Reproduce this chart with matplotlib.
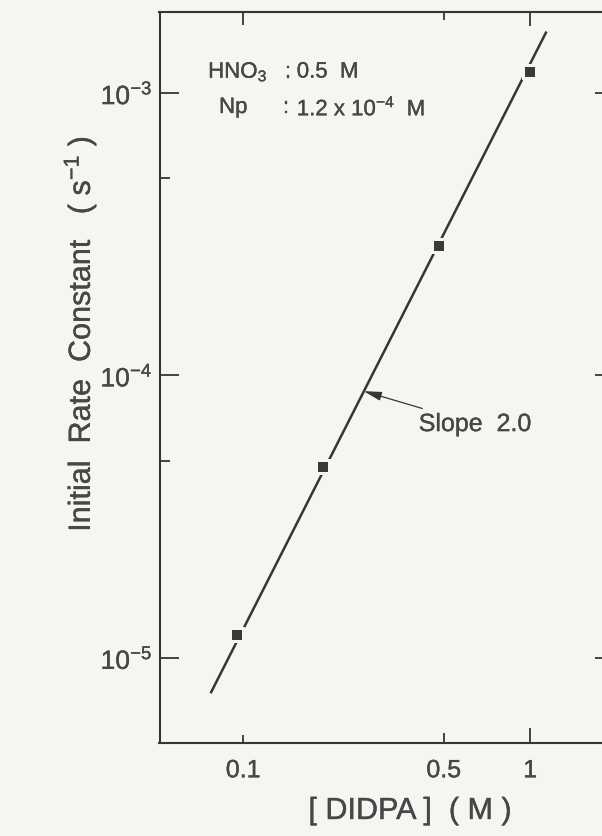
import matplotlib
matplotlib.use("Agg")
import matplotlib.pyplot as plt
import matplotlib.patheffects as pe
from matplotlib.ticker import FixedLocator, FixedFormatter, NullLocator, NullFormatter

# measured initial rate constants vs. DIDPA concentration
didpa = [0.095, 0.19, 0.48, 1.0]
rate = [1.21e-5, 4.74e-5, 2.87e-4, 1.19e-3]

# ends of the slope 2.0 line drawn through the points
fit_x = [0.077, 1.14]
fit_y = [7.5e-6, 1.65e-3]

x_ticks = [0.1, 0.5, 1]
x_tick_labels = ["0.1", "0.5", "1"]
y_major = [1e-5, 1e-4, 1e-3]
y_major_labels = ["$10^{-5}$", "$10^{-4}$", "$10^{-3}$"]
y_minor = [5e-5, 5e-4]

bg = "#f6f5f2"
ink = "#353535"
txt = "#474747"
# a touch heavier strokes for the lettering
pen = [pe.withStroke(linewidth=0.25, foreground=txt)]

plt.rcParams["font.family"] = ["Liberation Sans", "DejaVu Sans"]
plt.rcParams["mathtext.fontset"] = "custom"
plt.rcParams["mathtext.rm"] = "Liberation Sans"
plt.rcParams["mathtext.it"] = "Liberation Sans"
plt.rcParams["mathtext.default"] = "regular"

fig = plt.figure(figsize=(6.02, 8.37), dpi=100, facecolor=bg)
ax = fig.add_axes([159.5 / 602, 1 - 744 / 837, 454.5 / 602, 731.3 / 837])
ax.set_facecolor(bg)
ax.set_xscale("log")
ax.set_yscale("log")
ax.set_xlim(0.0511, 1.96)
ax.set_ylim(5.0e-6, 1.94e-3)

# line first, then a paper-coloured pad and the square on top
ax.plot(fit_x, fit_y, color=ink, lw=1.8, solid_capstyle="butt", zorder=2)
ax.plot(didpa, rate, ls="none", marker="s", ms=11, color=bg, mew=0, zorder=3)
ax.plot(didpa, rate, ls="none", marker="s", ms=6.8, color="#3a3a3a", mew=0, zorder=4)

for s in ax.spines.values():
    s.set_color(ink)
    s.set_linewidth(1.5)

ax.xaxis.set_major_locator(FixedLocator(x_ticks))
ax.xaxis.set_major_formatter(FixedFormatter(x_tick_labels))
ax.xaxis.set_minor_locator(NullLocator())
ax.xaxis.set_minor_formatter(NullFormatter())
ax.yaxis.set_major_locator(FixedLocator(y_major))
ax.yaxis.set_major_formatter(FixedFormatter(y_major_labels))
ax.yaxis.set_minor_locator(FixedLocator(y_minor))
ax.yaxis.set_minor_formatter(NullFormatter())

ax.tick_params(which="both", direction="in", top=True, right=True,
               color=ink, width=1.3, labelcolor=txt)
ax.tick_params(axis="x", which="major", length=8, pad=11, labelsize=18)
ax.tick_params(axis="y", which="major", length=14, pad=5, labelsize=19)
ax.tick_params(axis="y", which="minor", length=7)

# uneven tick lengths on the x axis
for tick, (lo, hi) in zip(ax.xaxis.get_major_ticks(), [(6, 9), (7, 6), (11, 10)]):
    tick.tick1line.set_markersize(lo)
    tick.tick2line.set_markersize(hi)

ax.set_xlabel("[ DIDPA ]  ( M )", fontsize=22, color=txt)
ax.xaxis.label.set_verticalalignment("center")
ax.xaxis.set_label_coords(0.551, -0.093)
ax.set_ylabel("Initial  Rate  Constant   ( s$^{-1}$ )", fontsize=22, color=txt)
ax.yaxis.label.set_verticalalignment("center")
ax.yaxis.set_label_coords(-0.175, 0.559)

# conditions block
rows = [
    (0.107, 0.9175, "HNO$_3$", 0.276, "0.5  M"),
    (0.131, 0.869, "Np", 0.272, "1.2 x 10$^{-4}$  M"),
]
for x0, y0, name, xc, value in rows:
    ax.text(x0, y0, name, transform=ax.transAxes, fontsize=16, color=txt, va="center")
    ax.text(xc, y0, ":", transform=ax.transAxes, fontsize=16, color=txt, va="center")
    ax.text(0.302, y0, value, transform=ax.transAxes, fontsize=16, color=txt, va="center")

ax.annotate("Slope  2.0", xy=(0.263, 8.8e-5), xytext=(0.409, 6.73e-5),
            fontsize=18, color=txt, va="center", ha="left",
            arrowprops=dict(arrowstyle="-|>,head_length=0.6,head_width=0.15",
                            color=ink, lw=0.9, shrinkA=2, shrinkB=0))

for t in ax.texts + ax.get_xticklabels() + ax.get_yticklabels():
    t.set_path_effects(pen)
ax.xaxis.label.set_path_effects(pen)
ax.yaxis.label.set_path_effects(pen)

fig.savefig("out.png", dpi=100, facecolor=bg)
